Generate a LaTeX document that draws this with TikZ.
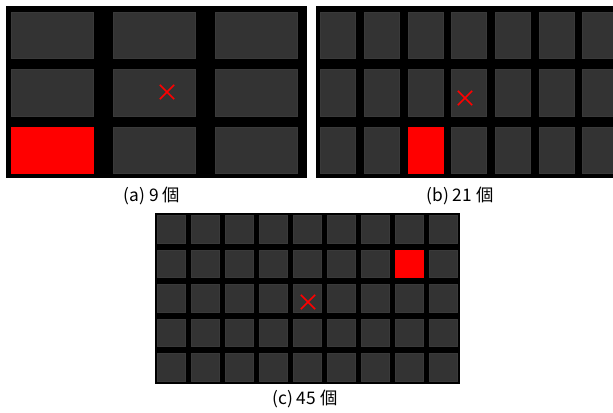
\documentclass[tikz,border=0pt]{standalone}
\usepackage{fontspec}
\setmainfont{Noto Sans CJK JP}
\usepackage{xcolor}
\definecolor{Frame}{HTML}{000000}
\definecolor{Tile}{HTML}{333333}
\definecolor{TileEdge}{HTML}{3A3A3A}
\definecolor{Hit}{HTML}{FF0000}
\colorlet{frame}{Frame}
\colorlet{tile}{Tile}
\colorlet{tileedge}{TileEdge}
\colorlet{hit}{Hit}
\usetikzlibrary{positioning,shapes.misc}

\begin{document}
\begin{tikzpicture}[x=0.75pt,y=-0.75pt,every node/.style={font=\fontsize{13}{15}\selectfont,align=center,inner sep=0pt},
  tilebox/.style={fill=tile,draw=tileedge,line width=0.4pt},hitbox/.style={fill=hit,draw=hit,line width=0.4pt},
  aim/.style={cross out,draw=hit,line width=1.2pt,minimum size=9.5pt}]
\useasboundingbox (0,0) rectangle (613,412);
\clip (0,0) rectangle (613,412);
% (a) 3 x 3
\fill[frame] (6,6) rectangle (307,178);
\foreach \i in {0,...,2} \foreach \j in {0,...,2} \path[tilebox] ({11+102*\i},{12+57.5*\j}) rectangle +(82,46.5);
\path[hitbox] (11,127) rectangle +(82,46.5);
\node[aim] (aimA) at (167,92) {};
\node (capA) at (152,196) {(a) 9 個};
% (b) 7 x 3
\fill[frame] (316,6) rectangle (620,178);
\foreach \i in {0,...,6} \foreach \j in {0,...,2} \path[tilebox] ({320.7+43.67*\i},{12+57.5*\j}) rectangle +(35,46.5);
\path[hitbox] (408,127) rectangle +(35,46.5);
\node[aim] (aimB) at (465,98) {};
\node (capB) at (460,196) {(b) 21 個};
% (c) 9 x 5
\fill[frame] (155,213.3) rectangle (460,384);
\foreach \i in {0,...,8} \foreach \j in {0,...,4} \path[tilebox] ({157.3+34*\i},{215.7+34.4*\j}) rectangle +(27.5,27.5);
\path[hitbox] ({157.3+34*7},{215.7+34.4}) rectangle +(27.5,27.5);
\node[aim] (aimC) at (308,302) {};
\node (capC) at (305,399) {(c) 45 個};
\end{tikzpicture}
\end{document}
